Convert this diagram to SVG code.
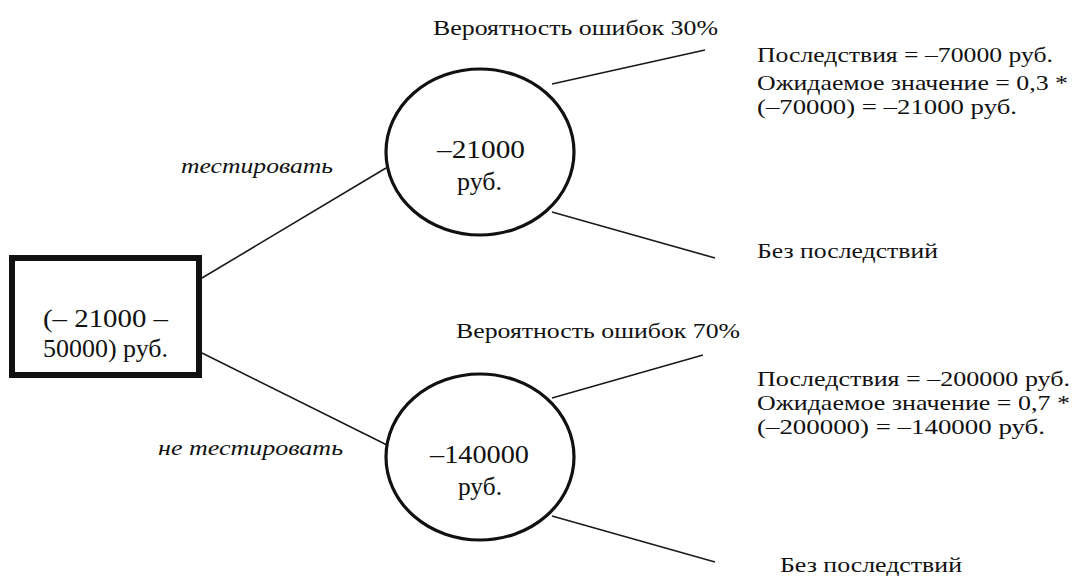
<svg xmlns="http://www.w3.org/2000/svg" width="1072" height="576" viewBox="0 0 1072 576">
<style>
text{font-family:"Liberation Serif","Times New Roman",serif;fill:#111;}
.lb{font-size:21px;}
.big{font-size:25px;}
.it{font-size:21px;font-style:italic;}
.conn line{stroke:#1a1a1a;stroke-width:1.6;}
.chance{fill:#fff;stroke:#111;stroke-width:3.2;}
.dec{fill:#fff;stroke:#111;stroke-width:6;}
</style>
<rect width="1072" height="576" fill="#fff"/>
<g id="connectors" class="conn">
<line x1="202" y1="278" x2="386" y2="168"/>
<line x1="202" y1="353" x2="387" y2="445"/>
<line x1="552" y1="84" x2="705" y2="50"/>
<line x1="552" y1="212" x2="715" y2="258"/>
<line x1="552" y1="398" x2="703" y2="355"/>
<line x1="552" y1="516" x2="715" y2="562"/>
</g>
<g id="decision">
<rect class="dec" x="12" y="258" width="187" height="117"/>
<text class="big" x="43" y="327" textLength="125" lengthAdjust="spacingAndGlyphs">(– 21000 –</text>
<text class="big" x="43" y="357" textLength="125" lengthAdjust="spacingAndGlyphs">50000) руб.</text>
</g>
<g id="label-test">
<text class="it" x="181" y="173" textLength="152" lengthAdjust="spacingAndGlyphs">тестировать</text>
</g>
<g id="label-notest">
<text class="it" x="158" y="455" textLength="185" lengthAdjust="spacingAndGlyphs">не тестировать</text>
</g>
<g id="chance-test">
<ellipse class="chance" cx="480" cy="152" rx="94" ry="83"/>
<text class="big" x="437" y="158" textLength="88" lengthAdjust="spacingAndGlyphs">–21000</text>
<text class="big" x="457" y="190" textLength="45" lengthAdjust="spacingAndGlyphs">руб.</text>
</g>
<g id="chance-notest">
<ellipse class="chance" cx="480" cy="457" rx="94" ry="83"/>
<text class="big" x="430" y="463" textLength="99" lengthAdjust="spacingAndGlyphs">–140000</text>
<text class="big" x="458" y="495" textLength="44" lengthAdjust="spacingAndGlyphs">руб.</text>
</g>
<g id="prob-30">
<text class="lb" x="433" y="35" textLength="285" lengthAdjust="spacingAndGlyphs">Вероятность ошибок 30%</text>
</g>
<g id="outcome-30">
<text class="lb" x="757" y="62" textLength="296" lengthAdjust="spacingAndGlyphs">Последствия = –70000 руб.</text>
<text class="lb" x="757" y="90" textLength="311" lengthAdjust="spacingAndGlyphs">Ожидаемое значение = 0,3 *</text>
<text class="lb" x="757" y="114" textLength="260" lengthAdjust="spacingAndGlyphs">(–70000) = –21000 руб.</text>
</g>
<g id="none-30">
<text class="lb" x="757" y="258" textLength="181" lengthAdjust="spacingAndGlyphs">Без последствий</text>
</g>
<g id="prob-70">
<text class="lb" x="456" y="338" textLength="284" lengthAdjust="spacingAndGlyphs">Вероятность ошибок 70%</text>
</g>
<g id="outcome-70">
<text class="lb" x="757" y="386" textLength="313" lengthAdjust="spacingAndGlyphs">Последствия = –200000 руб.</text>
<text class="lb" x="757" y="410" textLength="313" lengthAdjust="spacingAndGlyphs">Ожидаемое значение = 0,7 *</text>
<text class="lb" x="757" y="434" textLength="288" lengthAdjust="spacingAndGlyphs">(–200000) = –140000 руб.</text>
</g>
<g id="none-70">
<text class="lb" x="780" y="572" textLength="182" lengthAdjust="spacingAndGlyphs">Без последствий</text>
</g>
</svg>
